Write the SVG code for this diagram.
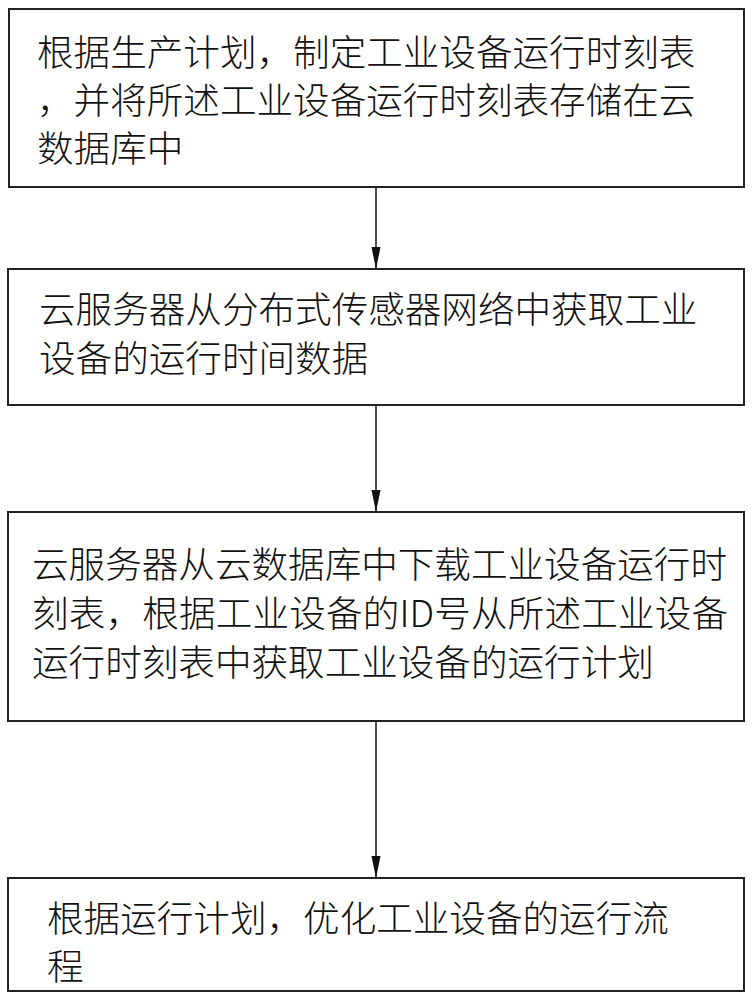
<svg xmlns="http://www.w3.org/2000/svg" width="752" height="1000" viewBox="0 0 752 1000">
<style>
.box{fill:#fff;stroke:#222;stroke-width:2}
.t{font-family:"Noto Sans CJK SC","Noto Sans",sans-serif;font-size:36.6px;font-weight:300;fill:#111}
.c{stroke:#222;stroke-width:1.6;fill:none}
</style>
<defs>
<marker id="ah" markerUnits="userSpaceOnUse" markerWidth="10" markerHeight="24" refX="4.5" refY="22" orient="0" viewBox="0 0 9 24">
<path d="M0,0 L9,0 L4.5,22 Z" fill="#111"/>
</marker>
</defs>
<rect width="752" height="1000" fill="#fff"/>
<g id="connectors">
<line class="c" x1="376" y1="187" x2="376" y2="269" marker-end="url(#ah)"/>
<line class="c" x1="376" y1="405" x2="376" y2="512" marker-end="url(#ah)"/>
<line class="c" x1="376" y1="721" x2="376" y2="878" marker-end="url(#ah)"/>
</g>
<g id="node1">
<rect class="box" x="9" y="9" width="735" height="178"/>
<text class="t" x="37" y="66">根据生产计划，制定工业设备运行时刻表</text>
<text class="t" x="37" y="114">，并将所述工业设备运行时刻表存储在云</text>
<text class="t" x="37" y="162">数据库中</text>
</g>
<g id="node2">
<rect class="box" x="8" y="269" width="736" height="136"/>
<text class="t" x="39" y="323">云服务器从分布式传感器网络中获取工业</text>
<text class="t" x="39" y="372">设备的运行时间数据</text>
</g>
<g id="node3">
<rect class="box" x="8" y="512" width="736" height="209"/>
<text class="t" x="32" y="578">云服务器从云数据库中下载工业设备运行时</text>
<text class="t" x="32" y="627" textLength="696" lengthAdjust="spacing">刻表，根据工业设备的ID号从所述工业设备</text>
<text class="t" x="32" y="676">运行时刻表中获取工业设备的运行计划</text>
</g>
<g id="node4">
<rect class="box" x="8" y="878" width="736" height="113"/>
<text class="t" x="47" y="932">根据运行计划，优化工业设备的运行流</text>
<text class="t" x="47" y="980">程</text>
</g>
</svg>
